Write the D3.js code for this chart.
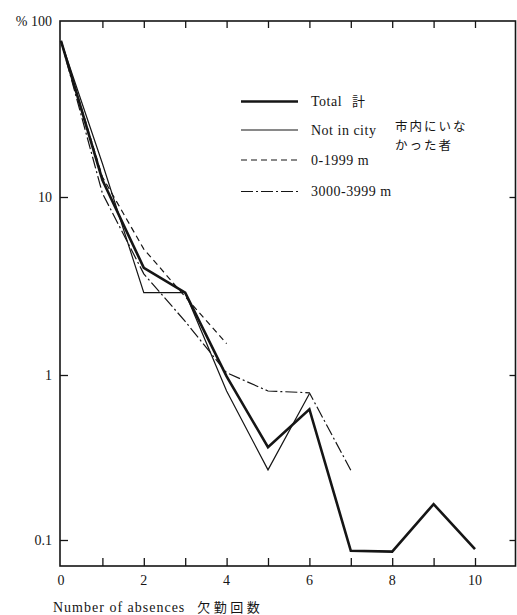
<!DOCTYPE html>
<html><head><meta charset="utf-8">
<script src="https://cdn.jsdelivr.net/npm/d3@7"></script>
<style>
html,body{margin:0;padding:0;background:#fff;}
</style></head>
<body>
<svg id="c" width="517" height="615"></svg>
<script>
// ---- data ----
const absences = [0,1,2,3,4,5,6,7,8,9,10];
const total      = [77, 12.5, 4.0, 2.9, 0.98, 0.365, 0.62, 0.086, 0.085, 0.165, 0.088];
const notInCity  = [77, 15.5, 2.9, 2.9, 0.80, 0.266, 0.77];
const dist0_1999 = [77, 13, 5.1, 2.75, 1.5];
const dist3000_3999 = [77, 10.5, 3.7, 2.0, 1.03, 0.80, 0.78, 0.265];
const xTickLabels = [0,2,4,6,8,10];
const xMinorTicks = [1,2,3,4,5,6,7,8,9,10];
const yTickValues = [100,10,1,0.1];
const yTickLabels = ["% 100","10","1","0.1"];

(function(){
const SERIF = "'Liberation Serif','DejaVu Serif',serif";
const JP = "'Noto Sans CJK JP','Noto Sans CJK SC',sans-serif";
const svg = d3.select("#c");
const ink = "#151515";

const x = d3.scaleLinear().domain([0,10]).range([61,475]);
const y = d3.scaleLog().domain([100,10,1,0.1]).range([21,197,375,540]);
const fLeft = 60, fRight = 515.5, fTop = 21, fBottom = 566;

// frame
svg.append("rect").attr("x",fLeft).attr("y",fTop).attr("width",fRight-fLeft).attr("height",fBottom-fTop)
  .attr("fill","none").attr("stroke",ink).attr("stroke-width",1.6);

// x ticks (bottom, inward)
const gb = svg.append("g").attr("transform",`translate(0,${fBottom})`)
  .call(d3.axisBottom(x).tickValues(xMinorTicks).tickSize(-8).tickFormat(""));
gb.select(".domain").remove();
gb.selectAll("line").attr("stroke",ink).attr("stroke-width",1.3);
// x ticks (top, inward)
const gt = svg.append("g").attr("transform",`translate(0,${fTop})`)
  .call(d3.axisTop(x).tickValues(xMinorTicks).tickSize(-7).tickFormat(""));
gt.select(".domain").remove();
gt.selectAll("line").attr("stroke",ink).attr("stroke-width",1.3);

// x labels
svg.append("g").selectAll("text").data(xTickLabels).join("text")
  .attr("x",d=>x(d)).attr("y",fBottom+19).attr("text-anchor","middle")
  .attr("font-family",SERIF).attr("fill",ink)
  .attr("font-size",14).text(d=>d);

// y ticks left (inward)
const gl = svg.append("g").attr("transform",`translate(${fLeft},0)`)
  .call(d3.axisRight(y).tickValues(yTickValues.slice(1)).tickSize(8).tickFormat(""));
gl.select(".domain").remove();
gl.selectAll("line").attr("stroke",ink).attr("stroke-width",1.3);
// y ticks right (inward)
const gr = svg.append("g").attr("transform",`translate(${fRight},0)`)
  .call(d3.axisLeft(y).tickValues(yTickValues.slice(1)).tickSize(6).tickFormat(""));
gr.select(".domain").remove();
gr.selectAll("line").attr("stroke",ink).attr("stroke-width",1.3);

// y labels
svg.append("g").selectAll("text").data(yTickValues).join("text")
  .attr("x",52).attr("y",d=>y(d)).attr("dy","0.35em").attr("text-anchor","end")
  .attr("font-family",SERIF).attr("fill",ink)
  .attr("font-size",14).text((d,i)=>yTickLabels[i]);

// axis title
const t = svg.append("text").attr("x",53).attr("y",612).attr("font-size",14)
  .attr("font-family",SERIF).attr("fill",ink);
t.append("tspan").attr("letter-spacing",1).text("Number of absences");
t.append("tspan").attr("font-family",JP).attr("dx",12).attr("letter-spacing",3.5).attr("font-size",13).text("欠勤回数");

// series
const line = d3.line().x((d,i)=>x(absences[i])).y(d=>y(d));
const series = [
  {name:"Total", data:total, w:2.6, dash:null},
  {name:"Not in city", data:notInCity, w:1.2, dash:null},
  {name:"0-1999 m", data:dist0_1999, w:1.2, dash:"6,4"},
  {name:"3000-3999 m", data:dist3000_3999, w:1.2, dash:"12,3,2,3"}
];
const plot = svg.append("g");
series.forEach(s=>{
  plot.append("path").datum(s.data).attr("d",line).attr("fill","none")
    .attr("stroke",ink).attr("stroke-width",s.w).attr("stroke-linejoin","miter")
    .attr("stroke-dasharray",s.dash);
});

// legend
const legY = [101.5,130,160,191.5];
const lg = svg.append("g");
series.forEach((s,i)=>{
  lg.append("line").attr("x1",241).attr("x2",298).attr("y1",legY[i]).attr("y2",legY[i])
    .attr("stroke",ink).attr("stroke-width",s.w).attr("stroke-dasharray",s.dash);
  lg.append("text").attr("x",311).attr("y",legY[i]).attr("dy","0.35em").attr("font-size",14)
    .attr("font-family",SERIF).attr("fill",ink).attr("letter-spacing",0.5).text(s.name);
});
// japanese legend parts
lg.append("text").attr("x",352).attr("y",legY[0]).attr("dy","0.35em")
  .attr("font-family",JP).attr("fill",ink).attr("font-size",13).text("計");
lg.append("text").attr("x",395).attr("y",126.5).attr("dy","0.35em")
  .attr("font-family",JP).attr("fill",ink).attr("font-size",12.5).attr("letter-spacing",2).text("市内にいな");
lg.append("text").attr("x",395).attr("y",145.5).attr("dy","0.35em")
  .attr("font-family",JP).attr("fill",ink).attr("font-size",12.5).attr("letter-spacing",2).text("かった者");
})();
</script>
</body></html>
